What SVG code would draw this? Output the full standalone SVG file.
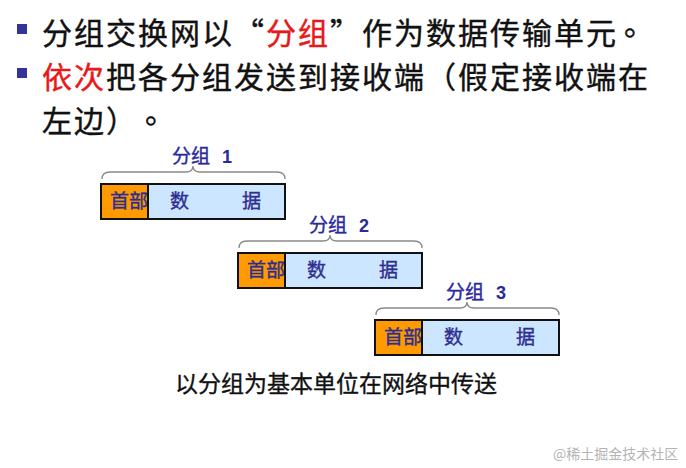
<svg xmlns="http://www.w3.org/2000/svg" width="686" height="468" viewBox="0 0 686 468">
  <style>
    .main { font-family: "Noto Sans CJK SC", "Liberation Sans", sans-serif; font-size: 30px; letter-spacing: 2px; fill: #111111; stroke: #111111; stroke-width: 0.4px; }
    .red { fill: #E8191B; stroke: #E8191B; }
    .bullet { fill: #333399; }
    .hdr { fill: #FF9A00; stroke: #111111; stroke-width: 2; }
    .data { fill: #CCE6FF; stroke: #111111; stroke-width: 2; }
    .ptxt { font-family: "Noto Sans CJK SC", "Liberation Sans", sans-serif; font-size: 19px; fill: #2E2E90; stroke: #2E2E90; stroke-width: 0.4px; }
    .lbl { font-family: "Noto Sans CJK SC", "Liberation Sans", sans-serif; font-size: 19px; fill: #2A2A9E; stroke: #2A2A9E; stroke-width: 0.4px; }
    .num { font-family: "Liberation Sans", sans-serif; font-weight: bold; font-size: 18px; fill: #2A2A9E; }
    .brace { fill: none; stroke: #8A8A8A; stroke-width: 1.3; }
    .caption { font-family: "Noto Sans CJK SC", "Liberation Sans", sans-serif; font-size: 23px; fill: #111111; stroke: #111111; stroke-width: 0.35px; }
    .wm { font-family: "Noto Sans CJK SC", "Liberation Sans", sans-serif; font-size: 14px; fill: #B4B4B4; }
  </style>
  <rect x="0" y="0" width="686" height="468" fill="#FFFFFF"/>

  <g id="bullets-text">
    <rect class="bullet" x="17" y="24" width="10" height="10"/>
    <rect class="bullet" x="17" y="68" width="10" height="10"/>
    <text class="main" x="42" y="44">分组交换网以“<tspan class="red">分组</tspan>”作为数据传输单元<tspan dx="6" dy="-9">。</tspan></text>
    <text class="main" x="42" y="88"><tspan class="red">依次</tspan>把各分组发送到接收端（假定接收端在</text>
    <text class="main" x="42" y="132">左边）<tspan dx="22" dy="-9">。</tspan></text>
  </g>

  <g id="packet1">
    <path class="brace" d="M102,179 Q102,172 110,172 L186,172 Q193,172 193,166 Q193,172 200,172 L277,172 Q285,172 285,179"/>
    <text class="lbl" x="172" y="163">分组</text>
    <text class="num" x="222" y="163">1</text>
    <rect class="data" x="101" y="184" width="184" height="35"/>
    <rect class="hdr" x="101" y="184" width="47" height="35"/>
    <text class="ptxt" x="110" y="208">首部</text>
    <text class="ptxt" x="170" y="208">数</text>
    <text class="ptxt" x="242" y="208">据</text>
  </g>

  <g id="packet2" transform="translate(137,69)">
    <path class="brace" d="M102,179 Q102,172 110,172 L186,172 Q193,172 193,166 Q193,172 200,172 L277,172 Q285,172 285,179"/>
    <text class="lbl" x="172" y="163">分组</text>
    <text class="num" x="222" y="163">2</text>
    <rect class="data" x="101" y="184" width="184" height="35"/>
    <rect class="hdr" x="101" y="184" width="47" height="35"/>
    <text class="ptxt" x="110" y="208">首部</text>
    <text class="ptxt" x="170" y="208">数</text>
    <text class="ptxt" x="242" y="208">据</text>
  </g>

  <g id="packet3" transform="translate(274,136)">
    <path class="brace" d="M102,179 Q102,172 110,172 L186,172 Q193,172 193,166 Q193,172 200,172 L277,172 Q285,172 285,179"/>
    <text class="lbl" x="172" y="163">分组</text>
    <text class="num" x="222" y="163">3</text>
    <rect class="data" x="101" y="184" width="184" height="35"/>
    <rect class="hdr" x="101" y="184" width="47" height="35"/>
    <text class="ptxt" x="110" y="208">首部</text>
    <text class="ptxt" x="170" y="208">数</text>
    <text class="ptxt" x="242" y="208">据</text>
  </g>

  <g id="connectors"></g>

  <text class="caption" x="175" y="392">以分组为基本单位在网络中传送</text>
  <text class="wm" x="553" y="459">@稀土掘金技术社区</text>
</svg>
